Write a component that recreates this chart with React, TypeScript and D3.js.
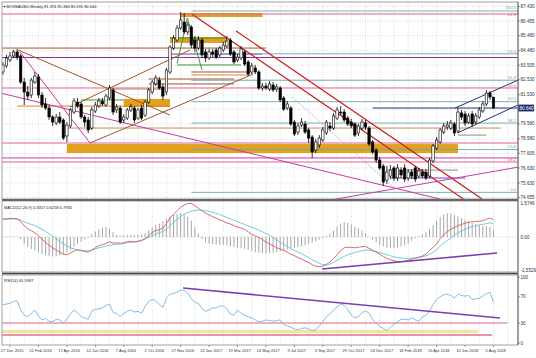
import React from "react";
import * as d3 from "d3";

const W = 536;
const H = 358;
const FIRST = -2; // index of first weekly bar (0 = week of 27 Dec 2015)

const opens = [83.05,83.45,83.85,84.12,84.39,84.12,82.38,81.71,81.51,82.38,82.72,81.51,80.91,80.64,80.04,79.64,80.04,79.84,78.77,79.44,80.37,81.04,80.91,80.04,79.84,79.30,80.44,80.77,81.11,80.84,81.31,81.85,80.51,80.64,79.84,79.97,80.51,80.64,79.97,80.64,80.17,81.04,81.71,82.25,82.51,82.05,81.71,83.05,84.65,85.19,85.99,86.39,85.73,86.06,85.19,84.65,85.19,84.39,83.99,84.39,84.52,84.19,84.52,84.79,85.19,84.39,83.85,83.99,84.39,83.72,83.05,83.32,83.05,81.98,82.11,81.91,82.18,81.91,81.98,81.31,80.64,80.64,79.70,79.03,79.50,79.57,79.17,78.70,77.83,78.17,78.50,78.97,79.44,79.30,79.97,80.37,80.37,79.97,79.70,79.57,78.97,79.30,79.64,79.30,78.37,77.83,77.16,76.76,75.82,76.09,76.63,75.96,76.49,76.63,75.96,76.36,76.63,76.09,76.36,76.36,76.09,77.10,77.96,78.37,79.03,79.37,79.30,79.57,79.10,80.31,80.24,79.70,80.24,79.70,80.04,80.44,80.91,81.64,81.374];
const highs = [83.72,84.19,84.39,84.52,84.59,84.25,82.65,82.11,82.65,83.05,82.91,81.71,81.31,80.84,80.17,80.24,80.37,79.97,79.70,80.64,81.31,81.31,81.04,80.17,80.04,80.71,81.04,81.31,81.31,81.58,82.18,81.98,80.91,80.77,80.24,80.64,80.91,80.77,80.64,80.84,81.18,81.98,82.51,82.85,82.72,82.25,83.32,84.85,85.52,86.19,87.06,86.99,86.39,86.19,85.46,85.46,85.32,84.59,84.59,84.59,84.65,84.79,85.06,85.46,85.32,84.52,84.25,84.79,84.52,83.85,83.65,83.52,83.18,82.31,82.31,82.45,82.38,82.25,82.11,81.44,81.11,80.77,79.84,79.64,79.97,79.77,79.30,78.83,78.57,78.83,79.37,79.84,79.70,80.31,80.71,80.77,80.57,80.11,79.91,79.70,79.57,79.91,79.84,79.44,78.50,77.96,77.36,76.89,76.76,76.83,76.76,76.89,76.69,76.89,76.56,76.56,76.76,76.63,76.56,76.56,77.30,78.23,78.70,79.30,79.64,79.77,79.84,79.70,80.64,80.51,80.44,80.31,80.44,80.31,80.71,81.11,81.85,81.78,81.384];
const lows = [82.85,83.32,83.72,83.99,83.85,82.25,80.84,81.18,81.31,82.25,81.31,80.64,80.51,79.84,79.44,79.50,79.57,78.50,78.37,79.30,80.24,80.64,79.91,79.37,78.97,79.17,80.31,80.64,80.77,80.71,81.18,80.17,80.31,79.57,79.64,79.84,80.37,79.64,79.84,79.84,80.04,80.91,81.58,82.11,81.85,81.18,81.51,82.91,84.52,85.06,85.86,85.59,85.52,84.65,84.39,84.52,83.99,83.72,83.85,84.05,83.92,84.05,84.39,84.65,84.12,83.58,83.72,83.85,83.45,82.78,82.91,82.91,81.85,81.78,81.85,81.78,81.71,81.71,81.04,80.44,80.51,79.44,78.77,78.83,79.37,78.90,78.30,77.30,77.63,77.96,78.37,78.83,79.10,79.17,79.84,80.17,79.70,79.44,79.30,78.70,78.77,79.17,79.17,78.10,77.56,76.96,76.49,75.42,75.56,75.89,75.76,75.76,75.96,75.69,75.76,75.89,75.69,75.96,75.96,75.82,75.96,76.96,77.83,78.23,78.90,79.17,79.17,78.77,78.97,79.84,79.44,79.57,79.37,79.57,79.91,80.31,80.77,81.18,80.595];
const closes = [83.52,83.99,84.12,84.39,84.05,82.38,81.71,81.44,82.51,82.78,81.51,80.84,80.64,80.04,79.70,80.04,79.70,78.63,79.50,80.51,81.11,80.77,80.04,79.70,79.17,80.51,80.84,81.11,80.91,81.44,81.98,80.37,80.71,79.70,80.04,80.51,80.71,79.84,80.51,79.97,81.04,81.85,82.38,82.65,81.98,81.44,83.18,84.72,85.32,85.99,86.53,85.73,86.19,84.85,84.65,85.19,84.19,83.99,84.39,84.25,84.05,84.65,84.85,85.12,84.25,83.72,84.05,84.59,83.58,82.91,83.45,83.05,81.98,82.11,81.98,82.25,81.85,82.05,81.18,80.57,80.91,79.57,78.90,79.44,79.70,79.03,78.63,77.70,78.37,78.63,79.17,79.70,79.30,80.11,80.51,80.31,79.84,79.57,79.44,78.83,79.44,79.70,79.37,78.23,77.70,77.16,76.63,75.69,76.36,76.49,75.96,76.63,76.16,75.89,76.36,76.09,75.89,76.43,76.09,75.96,77.16,78.10,78.50,79.17,79.44,79.50,79.64,78.97,80.37,80.04,79.64,80.11,79.57,80.11,80.51,80.91,81.64,81.37,80.64];

const macdMain = [0.83,0.84,0.85,0.86,0.84,0.72,0.52,0.38,0.29,0.19,0.06,-0.1,-0.25,-0.38,-0.5,-0.6,-0.7,-0.8,-0.82,-0.74,-0.65,-0.6,-0.62,-0.67,-0.7,-0.6,-0.5,-0.4,-0.35,-0.3,-0.22,-0.28,-0.27,-0.3,-0.27,-0.22,-0.2,-0.24,-0.2,-0.17,-0.08,0.06,0.2,0.3,0.34,0.4,0.62,0.88,1.05,1.22,1.38,1.48,1.55,1.55,1.45,1.33,1.2,1.1,1.02,0.94,0.87,0.8,0.73,0.65,0.6,0.53,0.46,0.42,0.35,0.24,0.12,0.05,-0.02,-0.12,-0.22,-0.32,-0.4,-0.5,-0.55,-0.62,-0.7,-0.8,-0.86,-0.95,-1.02,-1.1,-1.18,-1.28,-1.35,-1.37,-1.35,-1.27,-1.15,-1.0,-0.82,-0.62,-0.5,-0.47,-0.48,-0.5,-0.47,-0.45,-0.44,-0.52,-0.62,-0.7,-0.8,-0.9,-0.98,-1.05,-1.1,-1.13,-1.14,-1.12,-1.08,-1.03,-0.98,-0.93,-0.88,-0.8,-0.62,-0.48,-0.33,-0.08,0.1,0.25,0.36,0.44,0.53,0.58,0.64,0.68,0.71,0.72,0.73,0.75,0.82,0.88,0.79];
const macdSignal = [0.82,0.83,0.84,0.84,0.83,0.78,0.7,0.64,0.58,0.52,0.44,0.36,0.26,0.16,0.04,-0.08,-0.2,-0.32,-0.42,-0.5,-0.55,-0.59,-0.62,-0.64,-0.64,-0.6,-0.55,-0.5,-0.46,-0.42,-0.38,-0.36,-0.34,-0.32,-0.3,-0.27,-0.24,-0.22,-0.19,-0.14,-0.08,-0.02,0.06,0.14,0.2,0.26,0.38,0.52,0.68,0.82,0.95,1.06,1.13,1.19,1.23,1.25,1.25,1.22,1.18,1.14,1.1,1.04,0.97,0.9,0.84,0.78,0.71,0.65,0.58,0.51,0.45,0.38,0.32,0.24,0.16,0.08,-0.02,-0.14,-0.24,-0.34,-0.44,-0.54,-0.62,-0.7,-0.78,-0.86,-0.95,-1.05,-1.14,-1.22,-1.28,-1.3,-1.25,-1.18,-1.08,-0.98,-0.9,-0.82,-0.76,-0.72,-0.68,-0.64,-0.6,-0.61,-0.64,-0.68,-0.72,-0.77,-0.82,-0.87,-0.92,-0.96,-0.98,-0.99,-0.99,-0.98,-0.97,-0.95,-0.92,-0.87,-0.8,-0.72,-0.58,-0.42,-0.28,-0.16,-0.04,0.08,0.2,0.28,0.36,0.43,0.48,0.52,0.56,0.59,0.62,0.65,0.63];
const macdHist = [0.02,0.02,0.03,0.04,0.02,-0.1,-0.3,-0.45,-0.55,-0.62,-0.7,-0.78,-0.84,-0.88,-0.9,-0.9,-0.86,-0.8,-0.7,-0.58,-0.45,-0.32,-0.22,-0.1,-0.04,0.12,0.25,0.35,0.42,0.46,0.38,0.22,0.1,0.06,0.08,0.1,0.1,0.08,0.1,0.12,0.18,0.3,0.45,0.55,0.62,0.72,0.85,0.95,1.02,1.08,1.1,1.05,0.95,0.75,0.45,0.15,-0.1,-0.25,-0.3,-0.33,-0.35,-0.36,-0.37,-0.38,-0.42,-0.45,-0.5,-0.52,-0.56,-0.6,-0.65,-0.7,-0.73,-0.75,-0.76,-0.75,-0.72,-0.7,-0.66,-0.62,-0.58,-0.54,-0.5,-0.46,-0.42,-0.38,-0.32,-0.26,-0.2,-0.12,-0.05,0.05,0.15,0.3,0.48,0.62,0.7,0.66,0.58,0.48,0.4,0.3,0.18,0.02,-0.12,-0.25,-0.36,-0.44,-0.48,-0.5,-0.5,-0.48,-0.44,-0.38,-0.3,-0.18,-0.06,0.04,0.12,0.22,0.38,0.55,0.75,0.92,1.05,1.1,1.08,1.02,0.95,0.88,0.8,0.72,0.66,0.6,0.56,0.52,0.5,0.46,0.34];
const rsiValues = [58,59,60,63,64,50,42,40,45,50,41,35,37,33,32,36,35,30,36,44,50,46,40,38,36,48,51,52,53,57,59,46,45,40,45,48,50,47,48,45,55,63,66,64,58,54,68,74,75,77,80,80,76,67,62,60,52,48,50,53,53,56,56,52,44,42,50,45,42,40,38,35,32,33,35,34,33,34,35,28,26,24,21,20,22,23,21,19,20,26,32,40,44,50,55,59,57,51,42,38,40,46,49,45,36,30,25,22,19,24,29,32,36,36,35,38,35,33,40,42,48,58,66,70,73,74,72,68,74,72,71,72,66,67,68,71,75,77,61.6];

const dateLabels = ["27 Dec 2015","21 Feb 2016","17 Apr 2016","12 Jun 2016","7 Aug 2016","2 Oct 2016","27 Nov 2016","22 Jan 2017","19 Mar 2017","14 May 2017","9 Jul 2017","3 Sep 2017","29 Oct 2017","24 Dec 2017","18 Feb 2018","15 Apr 2018","10 Jun 2018","5 Aug 2018"];
const priceTicks = [87.43,86.455,85.48,84.48,83.505,82.53,81.53,80.555,79.58,78.58,77.605,76.63,75.63,74.655];
const macdTicks = [1.5746, 0, -1.5529];
const macdTickText = ["1.5746", "0.00", "-1.5529"];
const rsiTicks = [100, 70, 30, 0];

// fibonacci retracement (teal) between these prices
const fibHigh = 87.13;
const fibLow = 75.0;
const fibLevels = [0, 23.6, 38.2, 50, 61.8, 76.4, 100];
// second (pink) fibonacci levels
const pinkFib = [[86.93, "61.8"], [81.98, "50.0"], [77.03, "38.2"]];

// horizontal levels: [price, fromWeek, toWeek, colorKey]
const hLevels = [
  [86.93, -3, 143, "pink"],
  [84.65, -3, 72, "brown"],
  [84.02, -3, 143, "purple"],
  [84.25, 45, 71, "violet"],
  [81.98, -3, 143, "pink"],
  [80.77, 2, 45, "orange"],
  [81.18, 20, 32, "green"],
  [78.30, -3, 143, "pink"],
  [77.30, -3, 143, "magenta"],
  [77.03, -3, 143, "pink"],
  [79.30, 16, 138, "tan"],
  [80.64, 102, 143, "navy"],
  [78.83, 126, 134, "gray"],
  [76.49, 106, 126, "gray"],
  [75.96, 107, 128, "violet"],
  [85.32, 45, 61, "green"],
  [83.52, 47, 65, "green"],
  [82.58, 39, 63, "brown"],
  [82.25, 39, 63, "brown"],
  [81.91, 27, 43, "tan"],
  [83.05, 51, 67, "brown"],
  [82.85, 51, 67, "tan"],
];
// zones: [fromWeek, toWeek, topPrice, bottomPrice]
const zones = [
  [48, 71, 86.99, 86.73],
  [45, 61, 85.39, 84.99],
  [32, 45, 81.25, 80.71],
  [16, 126, 78.23, 77.63],
];
// trend lines: [week0, price0, week1, price1, colorKey]
const trendLines = [
  [2.25, 84.52, 45, 80.17, "brown"],
  [2.8, 84.39, 22.5, 78.3, "magenta"],
  [-2.8, 81.65, 121, 74.55, "magenta"],
  [16.9, 80.71, 50.6, 84.52, "brown"],
  [22.5, 78.3, 68.4, 82.91, "brown"],
  [51.2, 86.91, 128.0, 74.48, "red"],
  [63.6, 85.79, 132.8, 74.55, "red"],
  [90, 74.48, 143, 76.69, "magenta"],
  [125.2, 80.64, 142.9, 82.51, "navy"],
  [125.8, 78.97, 142.9, 80.84, "navy"],
  [47, 83.62, 49.9, 86.66, "green"],
  [49.9, 86.66, 54, 83.18, "green"],
];
const dottedLine = [79.3, 81.38, 107.8, 75.35];
const macdTrend = [87.8, -1.48, 137, -0.74];
const rsiTrend = [48.7, 83.3, 137.8, 37.9];
// rsi levels: [value, fromWeek, toWeek, colorKey]
const rsiLevels = [
  [30.3, -3, 140, "pink"],
  [12.1, -3, 135.6, "crimson"],
];
const rsiBand = [-3, 131.6, 19.7, 14.7];

const palette = {
  pink: "#e2608e",
  brown: "#a3562e",
  purple: "#8e2f96",
  violet: "#7a3fb0",
  orange: "#d9822b",
  green: "#3c9a3c",
  magenta: "#c83aa4",
  tan: "#c98a55",
  navy: "#25327e",
  gray: "#8a8a8a",
  red: "#cc1f1f",
  crimson: "#d0305a",
  gold: "#e2a11c",
  teal: "#6aaaa8",
};

const FONT = "'Liberation Sans', 'DejaVu Sans', Arial, sans-serif";

export default function App() {
  const x = d3.scaleLinear().domain([0, 136]).range([10, 493.5]);
  const L = 2, R = 518;
  const mainTop = 2, mainBot = 199;
  const macdTop = 201, macdBot = 272;
  const rsiTop = 275, rsiBot = 345;
  const yP = d3.scaleLinear().domain([74.555, 87.731]).range([mainBot, mainTop]);
  const yM = d3.scaleLinear().domain([-1.62, 1.667]).range([macdBot, macdTop]);
  const yR = d3.scaleLinear().domain([0, 100]).range([343, 277]);

  const idx = closes.map((_, k) => FIRST + k);
  const macdLineGen = (arr) => d3.line().x((_, k) => x(FIRST + k)).y((v) => yM(v))(arr);
  const rsiPath = d3.line().x((_, k) => x(FIRST + k)).y((v) => yR(v))(rsiValues);

  const gridWeeks = d3.range(-4, 141, 4);
  const dateWeeks = dateLabels.map((_, k) => k * 8);
  const AX = 4.6; // axis font size

  const grid = (top, bot, key) => (
    <g key={key}>
      {gridWeeks.map((w) => (
        <line key={w} x1={x(w)} x2={x(w)} y1={top} y2={bot} stroke="#c4c4c4" strokeWidth={0.6} strokeDasharray="1,1.5" />
      ))}
    </g>
  );

  return (
    <div style={{ position: "fixed", left: 0, top: 0, width: W, height: H, background: "#fff" }}>
      <svg width={W} height={H} style={{ display: "block" }} fontFamily={FONT}>
        <defs>
          <clipPath id="cMain"><rect x={L} y={mainTop} width={R - L} height={mainBot - mainTop} /></clipPath>
          <clipPath id="cMacd"><rect x={L} y={macdTop} width={R - L} height={macdBot - macdTop} /></clipPath>
          <clipPath id="cRsi"><rect x={L} y={rsiTop} width={R - L} height={rsiBot - rsiTop} /></clipPath>
        </defs>
        <rect x={0} y={0} width={W} height={H} fill="#fff" />

        {/* grids */}
        {grid(mainTop, mainBot, "gm")}
        {grid(macdTop, macdBot, "gmacd")}
        {grid(rsiTop, rsiBot, "grsi")}
        {priceTicks.map((p) => (
          <line key={p} x1={L} x2={R} y1={yP(p)} y2={yP(p)} stroke="#c4c4c4" strokeWidth={0.6} strokeDasharray="1,1.5" />
        ))}
        <line x1={L} x2={R} y1={yM(0)} y2={yM(0)} stroke="#b0b0b0" strokeWidth={0.6} strokeDasharray="1,1.5" />

        {/* main panel annotations */}
        <g clipPath="url(#cMain)">
          {zones.map(([w0, w1, p0, p1], k) => (
            <rect key={k} x={x(w0)} y={yP(p0)} width={x(w1) - x(w0)} height={yP(p1) - yP(p0)} fill={palette.gold} />
          ))}
          {hLevels.map(([p, w0, w1, c], k) => (
            <line key={k} x1={x(w0)} x2={x(w1)} y1={yP(p)} y2={yP(p)} stroke={palette[c]} strokeWidth={1} />
          ))}
          {fibLevels.map((f) => {
            const p = fibLow + (fibHigh - fibLow) * f / 100;
            return <line key={f} x1={x(51)} x2={R} y1={yP(p)} y2={yP(p)} stroke={palette.teal} strokeWidth={0.9} />;
          })}
          <line x1={x(dottedLine[0])} y1={yP(dottedLine[1])} x2={x(dottedLine[2])} y2={yP(dottedLine[3])} stroke="#9a9a9a" strokeWidth={0.8} strokeDasharray="1.5,1.5" />
          {trendLines.map(([w0, p0, w1, p1, c], k) => (
            <line key={k} x1={x(w0)} y1={yP(p0)} x2={x(w1)} y2={yP(p1)} stroke={palette[c]} strokeWidth={c === "red" ? 1.2 : 1} />
          ))}
          {idx.map((w, k) => {
            const o = opens[k], c = closes[k];
            const cx = x(w);
            const y0 = yP(Math.max(o, c));
            const y1 = yP(Math.min(o, c));
            const up = c >= o;
            return (
              <g key={w}>
                <line x1={cx} x2={cx} y1={yP(highs[k])} y2={yP(lows[k])} stroke="#000" strokeWidth={0.8} />
                <rect x={cx - 1.2} y={y0} width={2.4} height={Math.max(0.8, y1 - y0)} fill={up ? "#fff" : "#000"} stroke="#000" strokeWidth={0.6} />
              </g>
            );
          })}
        </g>
        {fibLevels.map((f) => {
          const p = fibLow + (fibHigh - fibLow) * f / 100;
          return (
            <text key={f} x={516} y={yP(p) - (f === 100 ? 2.2 : 1.2)} fontSize={4.2} fill={palette.teal} textAnchor="end">
              {f === 0 ? "0.0" : f === 100 ? "100.0" : f.toFixed(1)}
            </text>
          );
        })}
        {pinkFib.map(([p, t]) => (
          <text key={t} x={516} y={yP(p) + (t === "61.8" ? 1.6 : -1.2)} fontSize={4.2} fill={palette.pink} textAnchor="end">{t}</text>
        ))}

        {/* MACD */}
        <g clipPath="url(#cMacd)">
          {idx.map((w, k) => (
            <line key={w} x1={x(w)} x2={x(w)} y1={yM(0)} y2={yM(macdHist[k])} stroke="#a6a6a6" strokeWidth={1} />
          ))}
          <path d={macdLineGen(macdSignal)} fill="none" stroke="#5cc8d8" strokeWidth={0.9} />
          <path d={macdLineGen(macdMain)} fill="none" stroke="#d45a5a" strokeWidth={0.9} />
          <line x1={x(macdTrend[0])} y1={yM(macdTrend[1])} x2={x(macdTrend[2])} y2={yM(macdTrend[3])} stroke={palette.violet} strokeWidth={1.6} />
        </g>

        {/* RSI */}
        <g clipPath="url(#cRsi)">
          <rect x={x(rsiBand[0])} y={yR(rsiBand[2])} width={x(rsiBand[1]) - x(rsiBand[0])} height={yR(rsiBand[3]) - yR(rsiBand[2])} fill="#f3e2a0" />
          {rsiLevels.map(([v, w0, w1, c], k) => (
            <line key={k} x1={x(w0)} x2={x(w1)} y1={yR(v)} y2={yR(v)} stroke={palette[c]} strokeWidth={1.2} />
          ))}
          <path d={rsiPath} fill="none" stroke="#7cb4dc" strokeWidth={0.9} />
          <line x1={x(rsiTrend[0])} y1={yR(rsiTrend[1])} x2={x(rsiTrend[2])} y2={yR(rsiTrend[3])} stroke={palette.violet} strokeWidth={1.6} />
        </g>

        {/* frames */}
        <rect x={L} y={mainTop} width={R - L} height={mainBot - mainTop} fill="none" stroke="#8a8a8a" strokeWidth={0.8} />
        <rect x={L} y={macdTop} width={R - L} height={macdBot - macdTop} fill="none" stroke="#8a8a8a" strokeWidth={0.8} />
        <rect x={L} y={rsiTop} width={R - L} height={rsiBot - rsiTop} fill="none" stroke="#8a8a8a" strokeWidth={0.8} />
        <line x1={L} x2={R} y1={200} y2={200} stroke="#444" strokeWidth={1.6} />
        <line x1={L} x2={R} y1={273.5} y2={273.5} stroke="#444" strokeWidth={1.6} />
        <line x1={R} x2={R} y1={mainTop} y2={rsiBot} stroke="#555" strokeWidth={0.8} />

        {/* right axis labels */}
        {priceTicks.map((p) => (
          <g key={p}>
            <line x1={R} x2={R + 2} y1={yP(p)} y2={yP(p)} stroke="#555" strokeWidth={0.6} />
            <text x={R + 2.5} y={yP(p) + 1.6} fontSize={AX} fill="#333">{p.toFixed(3)}</text>
          </g>
        ))}
        <rect x={R + 0.5} y={yP(80.64) - 3.4} width={15.5} height={6.8} fill="#1f2a6e" />
        <text x={R + 1.5} y={yP(80.64) + 1.6} fontSize={AX} fill="#fff">80.640</text>
        {macdTicks.map((v, k) => (
          <text key={k} x={R + 2.5} y={yM(v) + 1.6} fontSize={AX} fill="#333">{macdTickText[k]}</text>
        ))}
        {rsiTicks.map((v) => (
          <g key={v}>
            <line x1={R} x2={R + 2} y1={yR(v)} y2={yR(v)} stroke="#555" strokeWidth={0.6} />
            <text x={R + 2.5} y={yR(v) + 1.6} fontSize={AX} fill="#333">{v}</text>
          </g>
        ))}

        {/* date labels */}
        {dateWeeks.map((w, k) => (
          <g key={w}>
            <line x1={x(w)} x2={x(w)} y1={rsiBot} y2={rsiBot + 2} stroke="#555" strokeWidth={0.6} />
            <text x={x(w) + 2.2} y={351.5} fontSize={4} fill="#333" textAnchor="middle">{dateLabels[k]}</text>
          </g>
        ))}

        {/* headers */}
        <text x={3.5} y={7.5} fontSize={4} fill="#222">▾ BOSSAUSD,Weekly  81.374 81.384 80.595 80.640</text>
        <text x={4} y={208.5} fontSize={4} fill="#222">MACD(12,26,9) 0.3357 0.6258 0.7934</text>
        <text x={4} y={281.5} fontSize={4} fill="#222">RSI(14) 61.5987</text>
      </svg>
    </div>
  );
}
